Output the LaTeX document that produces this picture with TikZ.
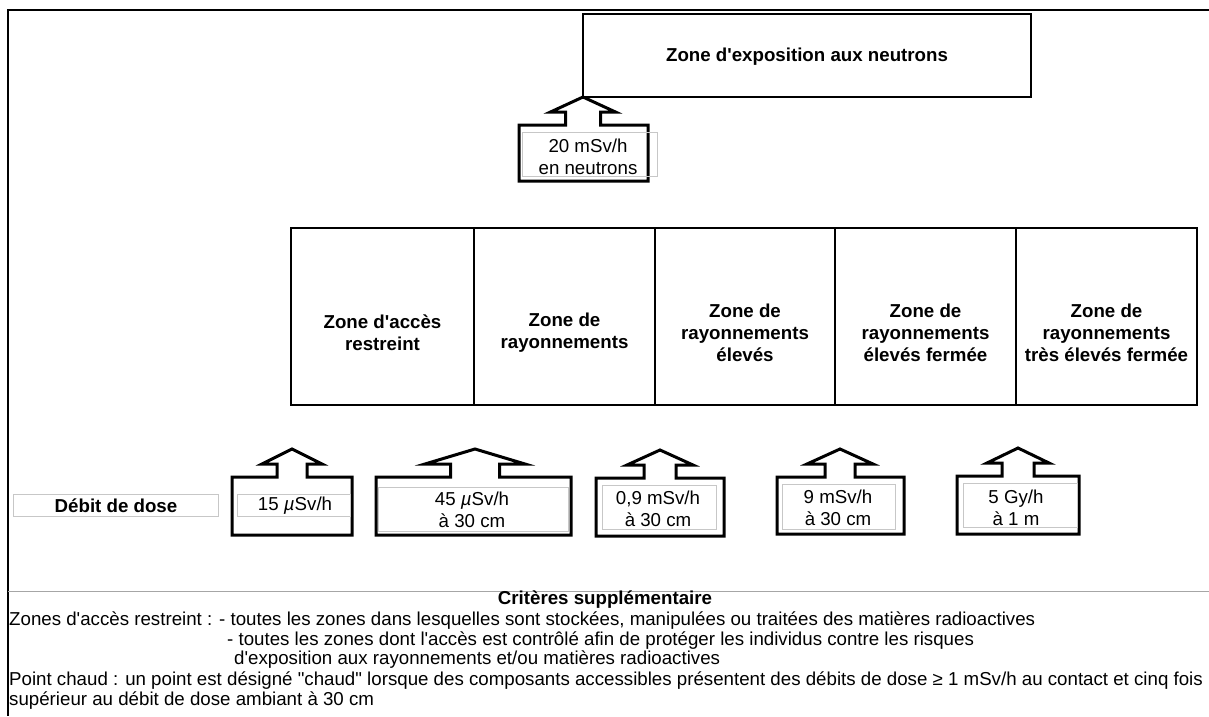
\documentclass[tikz,border=0pt]{standalone}
\usepackage{fontspec}
\setmainfont{Liberation Sans}[Ligatures=TeXOff]
\begin{document}
% Block arrow: tip x, tip y, half width of head, half width of shaft,
% left and right of the base box, bottom of the base box
\newcommand\dosearrow[7]{%
  \draw[arrowline] (#1,#2) -- (#1+#3,#2+15) -- (#1+#4,#2+15) -- (#1+#4,#2+28)
    -- (#6,#2+28) -- (#6,#7) -- (#5,#7) -- (#5,#2+28) -- (#1-#4,#2+28)
    -- (#1-#4,#2+15) -- (#1-#3,#2+15) -- cycle;}
\begin{tikzpicture}[x=1pt,y=-1pt,
  every node/.style={inner sep=0pt},
  txt/.style={font=\fontsize{18.7}{22}\selectfont, align=center},
  btxt/.style={font=\fontsize{18.7}{22}\selectfont\bfseries, align=center},
  ltxt/.style={font=\fontsize{18.7}{22}\selectfont, anchor=base west},
  zonebox/.style={draw, line width=1.5pt, minimum height=177pt},
  arrowline/.style={draw, line width=3pt, line join=miter},
  cell/.style={draw=black!22, line width=0.7pt},
  frame/.style={line width=1.5pt}]
\path[use as bounding box, fill=white] (0,0) rectangle (1209,716);

% outer frame
\draw[frame] (1209,10) -- (8,10) -- (8,716);

% neutron zone
\node[draw, line width=1.5pt, minimum width=448pt, minimum height=83pt] (neutronbox) at (807,55.5) {};
\node[btxt] (neutrontitle) at (807,57) {Zone d'exposition aux neutrons};
\dosearrow{583}{97}{32.5}{17.5}{519}{648}{181}
\draw[cell] (522,132) rectangle (657,176);
\node[txt] (neutrondose) at (588,157) {20 mSv/h\\en neutrons};

% zones, side by side
\node[zonebox, minimum width=183pt] (z1) at (382.5,316.5) {};
\node[zonebox, minimum width=181pt] (z2) at (564.5,316.5) {};
\node[zonebox, minimum width=180pt] (z3) at (745,316.5) {};
\node[zonebox, minimum width=181pt] (z4) at (925.5,316.5) {};
\node[zonebox, minimum width=181pt] (z5) at (1106.5,316.5) {};
\node[btxt] (t1) at (382.5,332.5) {Zone d'accès\\restreint};
\node[btxt] (t2) at (564.5,332.5) {Zone de\\rayonnements};
\node[btxt] (t3) at (745,333) {Zone de\\rayonnements\\élevés};
\node[btxt] (t4) at (925.5,333) {Zone de\\rayonnements\\élevés fermée};
\node[btxt] (t5) at (1106.5,333) {Zone de\\rayonnements\\très élevés fermée};

% dose rate thresholds
\draw[cell] (13,494) rectangle (218,516);
\node[btxt] (debit) at (116,506) {Débit de dose};

\dosearrow{292}{449}{30}{15}{232}{352}{535}
\draw[cell] (237,494) rectangle (350,516);
\node[txt] (d1) at (295,506) {15 {\itshape µ}Sv/h};

\dosearrow{475}{449}{50}{24.5}{376}{571}{535}
\draw[cell] (378,487) rectangle (568,531);
\node[txt] (d2) at (472,510) {45 {\itshape µ}Sv/h\\à 30 cm};

\dosearrow{660}{450}{33}{16}{596}{724}{536}
\draw[cell] (602,485) rectangle (716,529);
\node[txt] (d3) at (658,509) {0,9 mSv/h\\à 30 cm};

\dosearrow{840}{449}{33}{15}{777}{904}{534}
\draw[cell] (782,484) rectangle (895,529);
\node[txt] (d4) at (838,507.5) {9 mSv/h\\à 30 cm};

\dosearrow{1018}{448}{31}{16}{957}{1079}{534}
\draw[cell] (963,483) rectangle (1077,527);
\node[txt] (d5) at (1016,507.5) {5 Gy/h\\à 1 m};

% additional criteria
\draw[draw=black!35, line width=1pt] (8,591) -- (1209,591);
\node[btxt] (crit) at (605,599.5) {Critères supplémentaire};
\node[ltxt] (c1) at (9,625) {Zones d'accès restreint : - toutes les zones dans lesquelles sont stockées, manipulées ou traitées des matières radioactives};
\node[ltxt] (c2) at (227,645) {- toutes les zones dont l'accès est contrôlé afin de protéger les individus contre les risques};
\node[ltxt] (c3) at (234,664) {d'exposition aux rayonnements et/ou matières radioactives};
\node[ltxt] (c4) at (9,685) {Point chaud : un point est désigné "chaud" lorsque des composants accessibles présentent des débits de dose ≥ 1 mSv/h au contact et cinq fois};
\node[ltxt] (c5) at (9,705) {supérieur au débit de dose ambiant à 30 cm};
\end{tikzpicture}
\end{document}
